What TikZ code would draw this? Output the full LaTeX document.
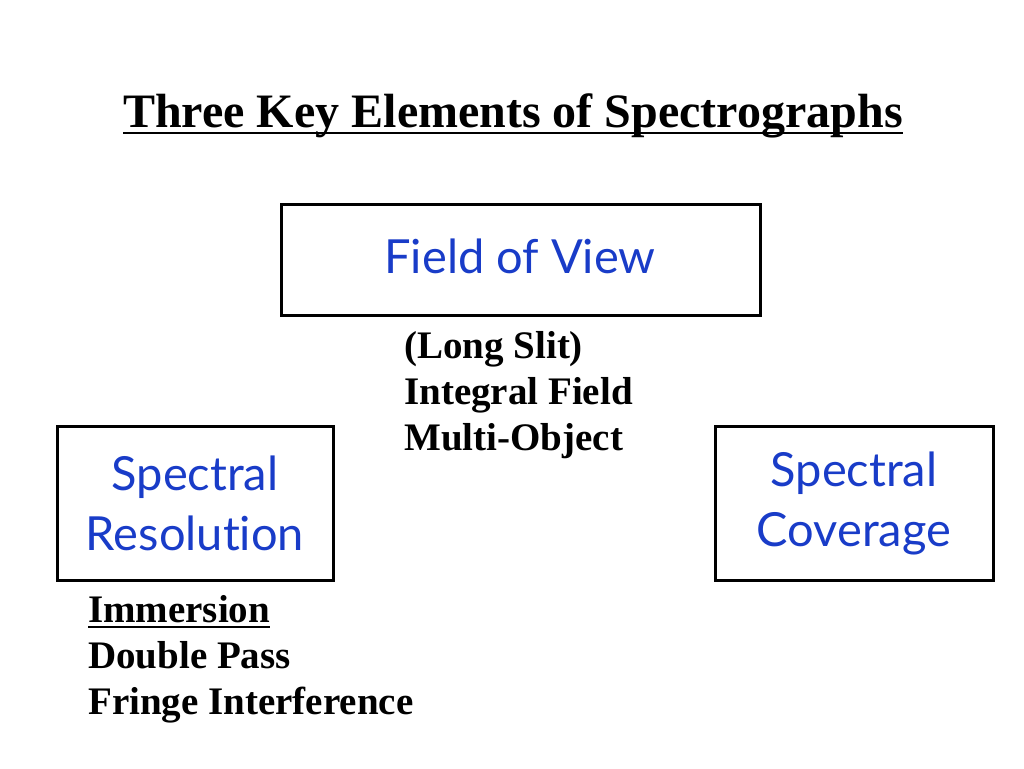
\documentclass[tikz,border=0pt]{standalone}
\usepackage{fontspec}
\setmainfont{Liberation Serif}
\newfontfamily\handfont[Ligatures=NoCommon]{Lato}
\usetikzlibrary{calc}
\definecolor{hblue}{RGB}{25,60,200}
\begin{document}
\begin{tikzpicture}[x=1pt,y=-1pt,
  box/.style={draw=black,line width=3pt,inner sep=0pt},
  hand/.style={text=hblue,font=\handfont\fontsize{47}{60}\selectfont,align=center},
  body/.style={font=\bfseries\fontsize{39}{46}\selectfont,anchor=base west,inner sep=0pt},
  uline/.style={line width=2.5pt}]
\useasboundingbox (0,0) rectangle (1024,768);
\node[font=\bfseries\fontsize{48}{56}\selectfont,anchor=base,inner sep=0pt] (title) at (513,127) {Three Key Elements of Spectrographs};
\draw[uline] ($(title.base west)+(0,6)$) -- ($(title.base east)+(0,6)$);
\draw[box] (281,204) rectangle (760,315);
\node[hand] (fov) at (520,256) {Field of View};
\draw[box] (57,426) rectangle (333,580);
\node[hand] (res) at (195,503) {Spectral\\Resolution};
\draw[box] (715,426) rectangle (993,580);
\node[hand] (cov) at (854,503) {Spectral\\Coverage};
\node[body] (l1) at (404,358) {(Long Slit)};
\node[body] (l2) at (404,404) {Integral Field};
\node[body] (l3) at (404,450) {Multi-Object};
\node[body] (r1) at (88,622) {Immersion};
\draw[line width=2pt] ($(r1.base west)+(0,5)$) -- ($(r1.base east)+(0,5)$);
\node[body] (r2) at (88,668) {Double Pass};
\node[body] (r3) at (88,714) {Fringe Interference};
\end{tikzpicture}
\end{document}
